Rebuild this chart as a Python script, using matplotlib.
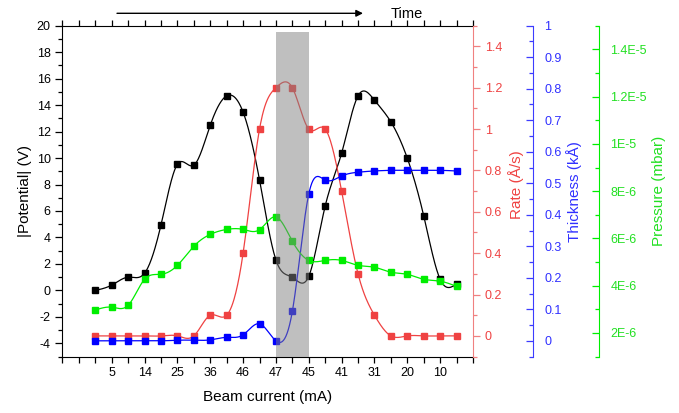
import numpy as np
import matplotlib.pyplot as plt
from matplotlib.ticker import MultipleLocator, FixedLocator, FuncFormatter

plt.rcParams['font.family'] = ['Liberation Sans', 'DejaVu Sans']
plt.rcParams['axes.unicode_minus'] = False

# measurement index along the run (time order)
step = np.arange(2, 25)
potential = [0.0, 0.4, 1.0, 1.3, 4.95, 9.53, 9.46, 12.48, 14.7, 13.47, 8.35, 2.3,
             0.99, 1.07, 6.38, 10.37, 14.7, 14.37, 12.73, 9.99, 5.63, 0.84, 0.49]
rate = [0, 0, 0, 0, 0, 0, 0, 0.1, 0.1, 0.4, 1.0, 1.2,
        1.2, 1.0, 1.0, 0.7, 0.3, 0.1, 0, 0, 0, 0, 0]
thickness = [0, 0, 0, 0, 0, 0.002, 0.002, 0.003, 0.011, 0.019, 0.054, 0.0,
             0.094, 0.466, 0.51, 0.523, 0.535, 0.539, 0.541, 0.541, 0.541, 0.541, 0.539]
pressure_e6 = [2.97, 3.09, 3.17, 4.27, 4.48, 4.86, 5.67, 6.17, 6.38, 6.38, 6.37, 6.91,
               5.88, 5.07, 5.07, 5.07, 4.86, 4.78, 4.57, 4.48, 4.27, 4.19, 3.97]
current_pos = [3, 5, 7, 9, 11, 13, 15, 17, 19, 21, 23]
current_labels = ['5', '14', '25', '36', '46', '47', '45', '41', '31', '20', '10']
band = (13, 15)

pressure = np.array(pressure_e6) * 1e-6

RED = '#ef4242'
BLUE = '#0000ff'
GREEN = '#00ee00'


def spline(x, y, n=600):
    # natural cubic spline, like Origin's "spline" connection
    x = np.asarray(x, float)
    y = np.asarray(y, float)
    m = len(x)
    h = np.diff(x)
    A = np.zeros((m, m))
    b = np.zeros(m)
    A[0, 0] = A[-1, -1] = 1
    for i in range(1, m - 1):
        A[i, i - 1] = h[i - 1]
        A[i, i] = 2 * (h[i - 1] + h[i])
        A[i, i + 1] = h[i]
        b[i] = 6 * ((y[i + 1] - y[i]) / h[i] - (y[i] - y[i - 1]) / h[i - 1])
    M = np.linalg.solve(A, b)
    xs = np.linspace(x[0], x[-1], n)
    k = np.clip(np.searchsorted(x, xs) - 1, 0, m - 2)
    t0 = x[k + 1] - xs
    t1 = xs - x[k]
    hk = h[k]
    ys = (M[k] * t0 ** 3 + M[k + 1] * t1 ** 3) / (6 * hk) \
        + (y[k] / hk - M[k] * hk / 6) * t0 + (y[k + 1] / hk - M[k + 1] * hk / 6) * t1
    return xs, ys


fig = plt.figure(figsize=(6.79, 4.13), dpi=100)
ax = fig.add_axes([0.092, 0.1366, 0.6046, 0.8012])
ax2 = ax.twinx()
ax3 = ax.twinx()
ax4 = ax.twinx()

ax3.spines['right'].set_position(('axes', 1.146))
ax4.spines['right'].set_position(('axes', 1.308))

series = [
    (ax, potential, 'black', 4.8),
    (ax2, rate, RED, 3.8),
    (ax3, thickness, BLUE, 4.8),
    (ax4, pressure, GREEN, 4.8),
]
for a, vals, col, ms in series:
    xs, ys = spline(step, vals)
    a.plot(xs, ys, color=col, lw=0.9)
    a.plot(step, vals, ls='none', marker='s', ms=ms, color=col, mec=col)

ax4.axvspan(band[0], band[1], ymin=0, ymax=0.982, color='#808080', alpha=0.5, lw=0, zorder=10)

# host axis
ax.set_xlim(0, 25)
ax.set_ylim(-5, 20)
ax.xaxis.set_major_locator(FixedLocator(current_pos))
ax.set_xticklabels(current_labels)
ax.xaxis.set_minor_locator(MultipleLocator(1))
ax.yaxis.set_major_locator(MultipleLocator(2))
ax.yaxis.set_minor_locator(MultipleLocator(1))
ax.tick_params(axis='both', which='both', labelsize=9, direction='out', width=0.9)
ax.tick_params(axis='x', which='both', top=True, length=4)
ax.tick_params(axis='y', which='major', length=5)
ax.tick_params(axis='y', which='minor', length=3)
ax.spines['right'].set_visible(False)
ax.set_xlabel('Beam current (mA)', fontsize=11, labelpad=8)
ax.set_ylabel('|Potential| (V)', fontsize=11)
ax.yaxis.set_label_coords(-0.075, 0.5)

for a in (ax2, ax3, ax4):
    for s in ('left', 'top', 'bottom'):
        a.spines[s].set_visible(False)

# rate axis
ax2.set_ylim(-0.1, 1.5)
ax2.yaxis.set_major_locator(MultipleLocator(0.2))
ax2.yaxis.set_minor_locator(MultipleLocator(0.1))
ax2.yaxis.set_major_formatter(FuncFormatter(lambda v, p: '%g' % round(v, 2)))
ax2.spines['right'].set_color('#f08080')
ax2.tick_params(axis='y', which='both', colors='#f08080', labelcolor=RED, labelsize=9,
                direction='out', width=0.9)
ax2.tick_params(axis='y', which='major', length=5)
ax2.tick_params(axis='y', which='minor', length=3)
ax2.set_ylabel('Rate (Å/s)', color=RED, fontsize=11)
ax2.yaxis.set_label_coords(1.085, 0.52)

# thickness axis
ax3.set_ylim(-0.05, 1.0)
ax3.yaxis.set_major_locator(MultipleLocator(0.1))
ax3.yaxis.set_minor_locator(MultipleLocator(0.05))
ax3.yaxis.set_major_formatter(FuncFormatter(lambda v, p: '%g' % round(v, 2)))
ax3.spines['right'].set_color('#3c3cff')
ax3.tick_params(axis='y', which='both', colors='#3c3cff', labelcolor='#3030ff', labelsize=9,
                direction='in', width=0.9, pad=8)
ax3.tick_params(axis='y', which='major', length=5)
ax3.tick_params(axis='y', which='minor', length=3)
ax3.set_ylabel('Thickness (kÅ)', color='#3030ff', fontsize=11)
ax3.yaxis.set_label_coords(1.2266, 0.5)


def sci(v, p):
    if v <= 0:
        return ''
    e = int(np.floor(np.log10(v) + 1e-9))
    return '%gE%d' % (round(v / 10 ** e, 3), e)


# pressure axis
ax4.set_ylim(1e-6, 1.5e-5)
ax4.yaxis.set_major_locator(MultipleLocator(2e-6))
ax4.yaxis.set_minor_locator(MultipleLocator(1e-6))
ax4.yaxis.set_major_formatter(FuncFormatter(sci))
ax4.spines['right'].set_color(GREEN)
ax4.tick_params(axis='y', which='both', colors=GREEN, labelcolor='#22e022', labelsize=9,
                direction='in', width=0.9, pad=8)
ax4.tick_params(axis='y', which='major', length=5)
ax4.tick_params(axis='y', which='minor', length=3)
ax4.set_ylabel('Pressure (mbar)', color='#22e022', fontsize=11)
ax4.yaxis.set_label_coords(1.437, 0.5)

# time arrow on top
ax.annotate('', xy=(363, 399.7), xytext=(117, 399.7), xycoords='figure pixels',
            textcoords='figure pixels',
            arrowprops=dict(arrowstyle='-|>', color='black', lw=1, mutation_scale=10,
                            shrinkA=0, shrinkB=0))
fig.text(391 / 679, 1 - 14 / 413, 'Time', ha='left', va='center', fontsize=10.5)

fig.savefig('out.png', dpi=100)
